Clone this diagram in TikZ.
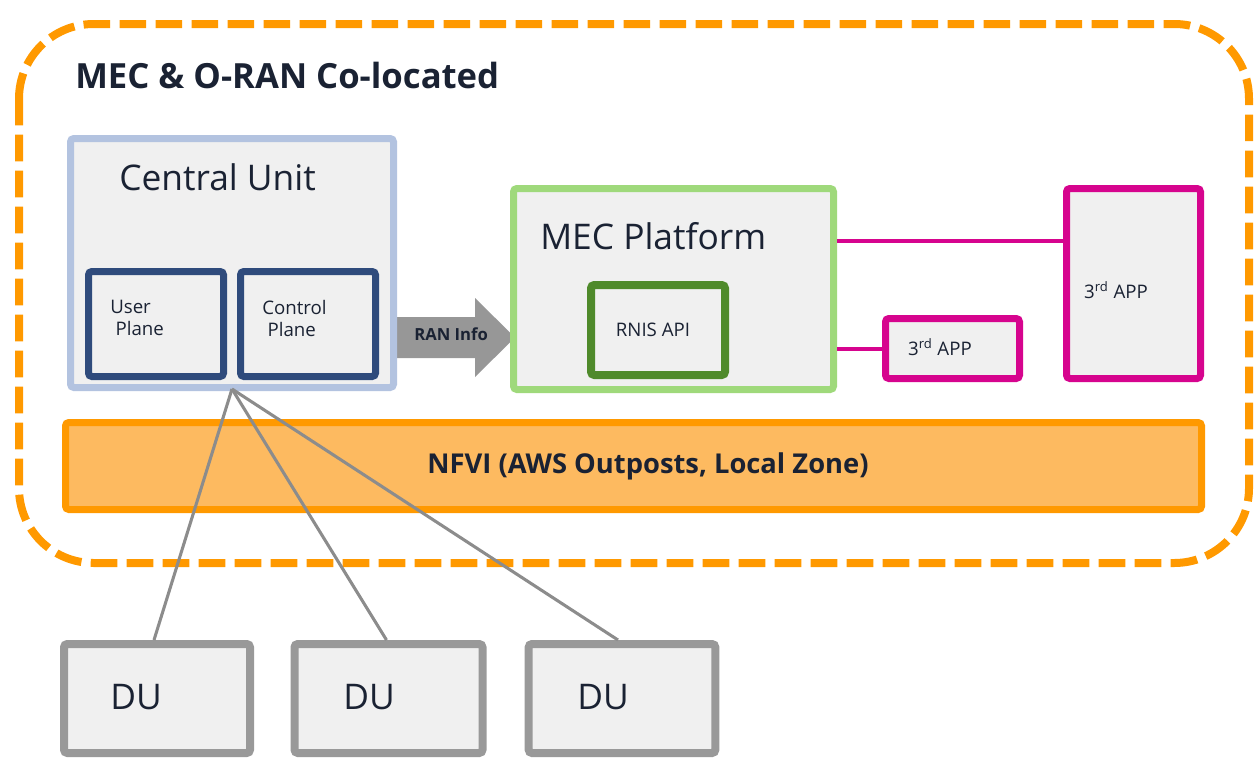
\documentclass[tikz,border=0pt]{standalone}
\usepackage{fontspec}
\setmainfont{Open Sans}
\usetikzlibrary{calc}
\definecolor{aorange}{HTML}{FF9900}
\definecolor{nfvifill}{HTML}{FDBA60}
\definecolor{cuborder}{HTML}{B3C3E0}
\definecolor{navy}{HTML}{2F4B7C}
\definecolor{lgreen}{HTML}{9FD97B}
\definecolor{dgreen}{HTML}{4F8A2B}
\definecolor{mag}{HTML}{D6048E}
\definecolor{boxfill}{HTML}{F0F0F0}
\definecolor{txt}{HTML}{1A2233}
\definecolor{agrey}{HTML}{8C8C8C}
\definecolor{dugrey}{HTML}{999999}
\tikzset{
  box/.style={draw, fill=boxfill, rectangle, rounded corners=2.5pt, inner sep=0pt},
  lbl/.style={text=txt, inner sep=0pt, anchor=west},
  ctr/.style={text=txt, inner sep=0pt},
  small/.style={font=\fontsize{14}{16.5}\selectfont},
  big/.style={font=\fontsize{26.5}{30}\selectfont},
  conn/.style={draw=agrey, line width=2.3pt},
  magline/.style={draw=mag, line width=3pt},
}
\begin{document}
\begin{tikzpicture}[x=0.75pt,y=-0.75pt]
\useasboundingbox (0,0) rectangle (1257,760);
% outer dashed region
\draw[aorange, line width=6pt, dash pattern=on 20pt off 7pt, rounded corners=56pt] (19,24) rectangle (1249,563);
\node[lbl, font=\bfseries\fontsize{26}{30}\selectfont] (title) at (75,75) {MEC \& O-RAN Co-located};

% RAN info arrow
\fill[agrey!90] (393,317) -- (475,317) -- (475,298) -- (515,337.5) -- (475,377) -- (475,358) -- (393,358) -- cycle;

% Central unit
\node[box, draw=cuborder, line width=5.25pt, minimum width=242.25pt, minimum height=186.75pt] (cu) at (232,263) {};
\node[lbl, big] (cutext) at (119,177) {Central Unit};
\node[box, draw=navy, line width=5.25pt, minimum width=101.25pt, minimum height=78.75pt] (up) at (156,324) {};
\node[lbl, small, align=left] (uptext) at (110,318) {User\\\hspace*{4pt}Plane};
\node[box, draw=navy, line width=5.25pt, minimum width=101.25pt, minimum height=78.75pt] (cp) at (308,324) {};
\node[lbl, small, align=left] (cptext) at (262,318) {Control\\\hspace*{4pt}Plane};

\node[lbl, font=\bfseries\fontsize{12.5}{14}\selectfont] (ran) at (414,334) {RAN Info};

% MEC platform
\node[box, draw=lgreen, line width=5.25pt, minimum width=240pt, minimum height=150.75pt] (mec) at (673.5,289) {};
\node[lbl, big] (mectext) at (540,236) {MEC Platform};
\node[box, draw=dgreen, line width=6pt, minimum width=100.5pt, minimum height=67.5pt] (rnis) at (658,330) {};
\node[ctr, small] (rnistext) at (653,330) {RNIS API};

% 3rd apps
\node[box, draw=mag, line width=5.25pt, minimum width=100.5pt, minimum height=45pt] (app1) at (952.5,348.5) {};
\node[ctr, small] (app1text) at (940,347) {3\textsuperscript{rd} APP};
\node[box, draw=mag, line width=5.25pt, minimum width=100.5pt, minimum height=142.5pt] (app2) at (1133.5,283.5) {};
\node[ctr, small] (app2text) at (1116,290) {3\textsuperscript{rd} APP};
\draw[magline] ($(mec.east)+(0,-48)$) coordinate (m1) -- (m1 -| app2.west);
\draw[magline] (app1.west -| mec.east) -- (app1.west);

% NFVI
\node[box, draw=aorange, fill=nfvifill, line width=5.25pt, minimum width=852pt, minimum height=65.25pt] (nfvi) at (633.5,466) {};
\node[ctr, font=\bfseries\fontsize{20.5}{24}\selectfont] (nfvitext) at (648,466) {NFVI (AWS Outposts, Local Zone)};

% DUs
\node[box, draw=dugrey, line width=6pt, minimum width=139.5pt, minimum height=81.75pt] (du1) at (157,698.5) {};
\node[ctr, big] (du1text) at (136,697) {DU};
\node[box, draw=dugrey, line width=6pt, minimum width=141pt, minimum height=81.75pt] (du2) at (388.5,698.5) {};
\node[ctr, big] (du2text) at (369,697) {DU};
\node[box, draw=dugrey, line width=6pt, minimum width=140pt, minimum height=81.75pt] (du3) at (622,698.5) {};
\node[ctr, big] (du3text) at (603,697) {DU};

% connectors CU -> DUs
\coordinate (hub) at ($(cu.south)+(0,-2)$);
\draw[conn] (hub) -- ($(du1.north)+(-3,0)$);
\draw[conn] (hub) -- ($(du2.north)+(-2,0)$);
\draw[conn] (hub) -- ($(du3.north)+(-4,0)$);
\end{tikzpicture}
\end{document}
